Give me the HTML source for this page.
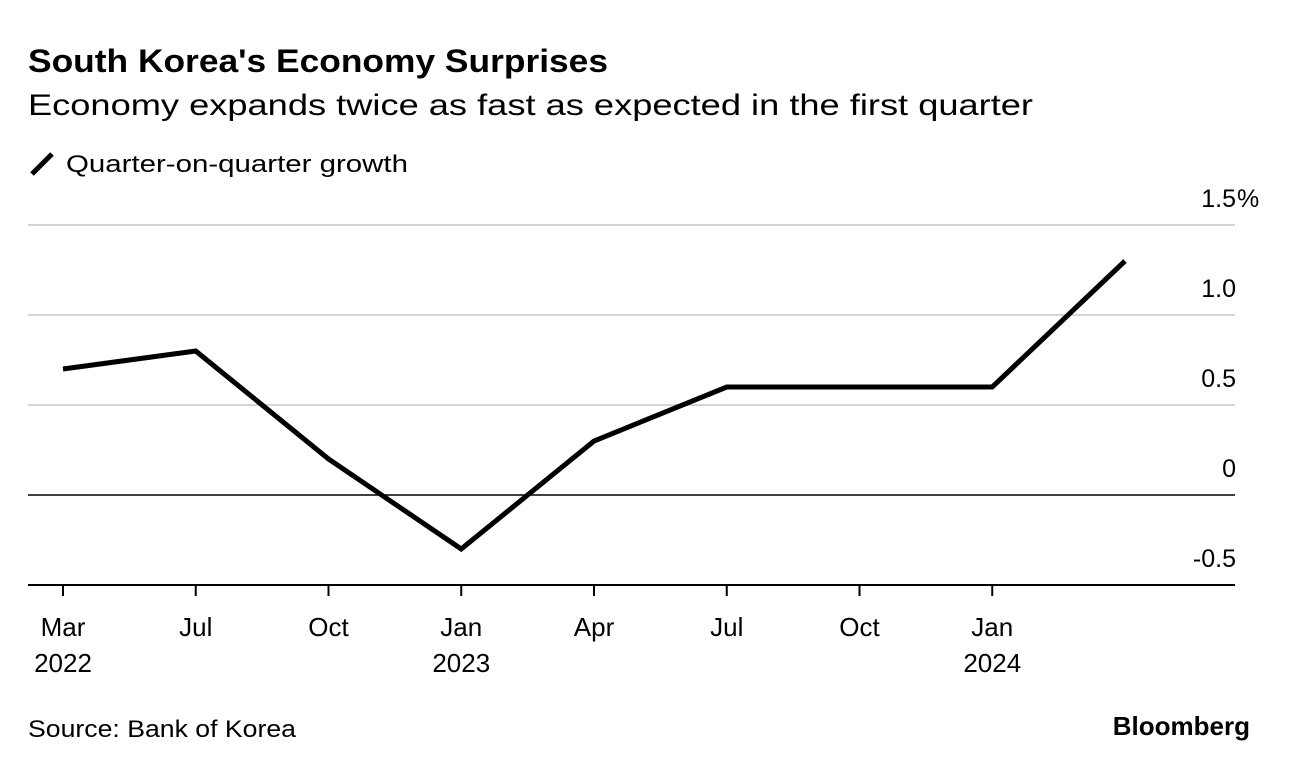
<!DOCTYPE html>
<html><head><meta charset="utf-8"><style>
body{margin:0;background:#fff;font-family:"Liberation Sans",sans-serif;color:#000}
svg text{font-family:"Liberation Sans",sans-serif}
</style></head><body>
<svg width="1289" height="770" xmlns="http://www.w3.org/2000/svg">
<text x="28" y="72" font-size="32" font-weight="bold" textLength="580" lengthAdjust="spacingAndGlyphs">South Korea's Economy Surprises</text>
<text x="28" y="115" font-size="30" textLength="1005" lengthAdjust="spacingAndGlyphs">Economy expands twice as fast as expected in the first quarter</text>
<line x1="32" y1="174" x2="52" y2="154" stroke="#000" stroke-width="5"/>
<text x="66" y="172" font-size="24" textLength="342" lengthAdjust="spacingAndGlyphs">Quarter-on-quarter growth</text>
<g id="grid"></g><g id="xaxis"></g>
<path id="line" fill="none" stroke="#000" stroke-width="5" stroke-linejoin="miter"/>
<text x="28" y="737" font-size="24" textLength="268" lengthAdjust="spacingAndGlyphs">Source: Bank of Korea</text>
<text x="1250" y="735" font-size="26" font-weight="bold" text-anchor="end">Bloomberg</text>
</svg>
<script>
const values=[0.7,0.8,0.2,-0.3,0.3,0.6,0.6,0.6,1.3];
const monthLabels=["Mar","Jul","Oct","Jan","Apr","Jul","Oct","Jan"];
const yearLabels=["2022","","","2023","","","","2024"];
const yTicks=[1.5,1.0,0.5,0,-0.5];
const yTickLabels=["1.5","1.0","0.5","0","-0.5"];
const NS="http://www.w3.org/2000/svg";
const x=i=>63+i*132.75;
const y=v=>495-v*180;
function mk(t,a,p){const e=document.createElementNS(NS,t);for(const k in a)e.setAttribute(k,a[k]);p.appendChild(e);return e;}
const g=document.getElementById('grid');
yTicks.forEach((v,i)=>{
 const l=mk('line',{x1:28,x2:1235,y1:y(v),y2:y(v),stroke:(v===0||v===-0.5)?'#000':'#d4d4d4','stroke-width':v===0?1.5:2},g);
 
 
 const t=mk('text',{x:1236,y:y(v)-18,'font-size':25,'text-anchor':'end'},g);
 t.textContent=yTickLabels[i];
 
 
 if(i===0){const p=mk('text',{x:1237,y:y(v)-18,'font-size':25},g);p.textContent='%';
 
 }
});
const xa=document.getElementById('xaxis');
monthLabels.forEach((m,i)=>{
 const tk=mk('line',{x1:x(i),x2:x(i),y1:y(-0.5),y2:y(-0.5)+11,stroke:'#000','stroke-width':2},xa);
 
 
 const t=mk('text',{x:x(i),y:636,'font-size':26,'text-anchor':'middle'},xa);
 t.textContent=m;
 
 
 if(yearLabels[i]){const t2=mk('text',{x:x(i),y:672,'font-size':26,'text-anchor':'middle'},xa);
 t2.textContent=yearLabels[i];
 
 }
});
document.getElementById('line').setAttribute('d',values.map((v,i)=>(i?'L':'M')+x(i)+','+y(v)).join(' '));
</script>
</body></html>
